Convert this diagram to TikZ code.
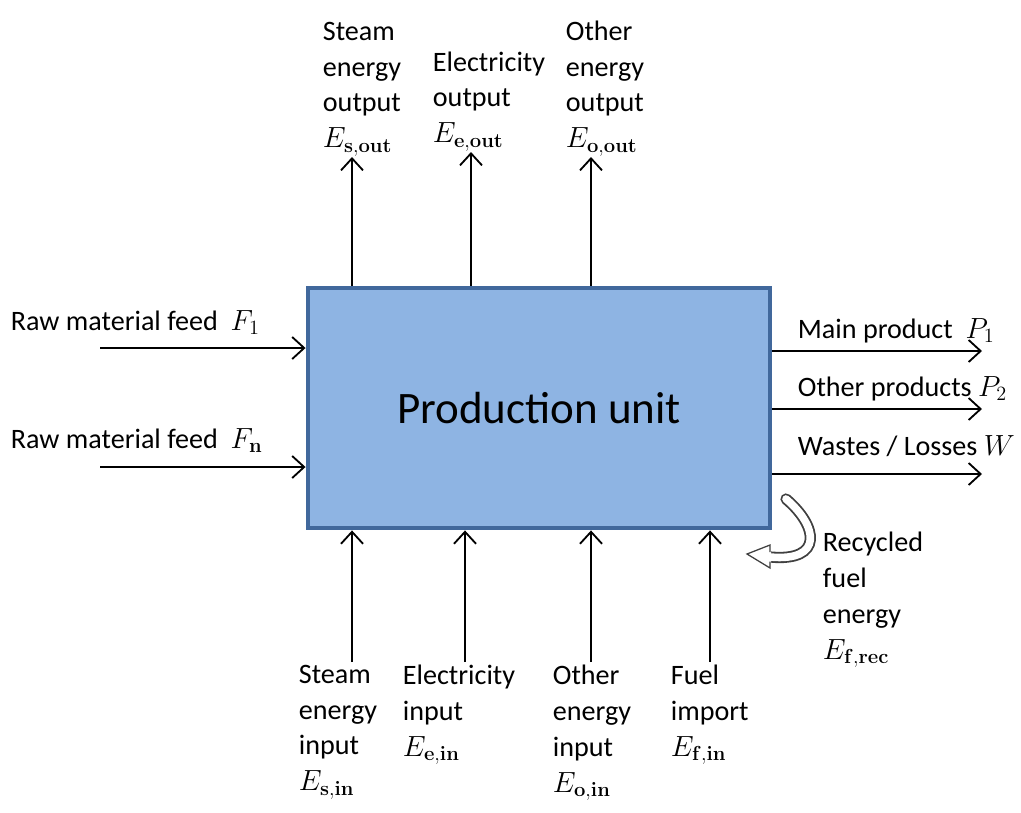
\documentclass[tikz,border=0pt]{standalone}
\usepackage[no-math]{fontspec}
\setmainfont{Carlito}
\usepackage{amsmath}
\usetikzlibrary{arrows.meta,positioning}
\definecolor{unitblue}{HTML}{8EB4E3}
\definecolor{boxblue}{HTML}{41689C}

\begin{document}
\begin{tikzpicture}[x=0.025cm, y=-0.025cm,
    >={Straight Barb[length=3mm, width=5.5mm]},
    line width=1.3pt,
    lbl/.style={inner sep=0pt, align=left, font=\fontsize{20}{25.5}\selectfont},
    unitbox/.style={draw=boxblue, fill=unitblue, line width=3.4pt,
      minimum width=11.55cm, minimum height=6cm, inner sep=0pt},
    hollow/.style={line width=8pt, draw=black!75,
      postaction={draw=white, line width=5.4pt}}]
  \useasboundingbox (0,0) rectangle (1021,812);

  \node[unitbox] (U) at (539,408) {\fontsize{32}{36}\selectfont Production unit};

  % outputs on top
  \coordinate (so) at (352,0);
  \coordinate (eo) at (471,0);
  \coordinate (oo) at (591,0);
  \node[lbl, anchor=south west] (Lso) at (322,157) {Steam\\energy\\output\\$E_{\mathbf{s,out}}$};
  \node[lbl, anchor=south west] (Leo) at (432,152) {Electricity\\output\\$E_{\mathbf{e,out}}$};
  \node[lbl, anchor=south west] (Loo) at (565,157) {Other\\energy\\output\\$E_{\mathbf{o,out}}$};
  \draw[->] (U.north -| so) -- (so |- Lso.south);
  \draw[->] (U.north -| eo) -- (eo |- Leo.south);
  \draw[->] (U.north -| oo) -- (oo |- Loo.south);

  % raw material feeds
  \coordinate (f1) at (100,348);
  \coordinate (fn) at (100,467);
  \node[lbl, anchor=base west] (Lf1) at (10,330) {Raw material feed \ $F_1$};
  \node[lbl, anchor=base west] (Lfn) at (10,448) {Raw material feed \ $F_{\mathbf{n}}$};
  \draw[->] (f1) -- (U.west |- f1);
  \draw[->] (fn) -- (U.west |- fn);

  % products and wastes
  \coordinate (p1) at (982,351);
  \coordinate (p2) at (982,409);
  \coordinate (w) at (982,474);
  \node[lbl, anchor=base west] (Lp1) at (797,338) {Main product \ $P_1$};
  \node[lbl, anchor=base west] (Lp2) at (797,396) {Other products $P_2$};
  \node[lbl, anchor=base west] (Lw) at (797,455) {Wastes / Losses $W$};
  \draw[->] (U.east |- p1) -- (p1);
  \draw[->] (U.east |- p2) -- (p2);
  \draw[->] (U.east |- w) -- (w);

  % energy inputs at the bottom
  \coordinate (si) at (352,662);
  \coordinate (ei) at (465,662);
  \coordinate (oi) at (591,662);
  \coordinate (fi) at (710,662);
  \node[lbl, anchor=north west] (Lsi) at (298,664) {Steam\\energy\\input\\$E_{\mathbf{s,in}}$};
  \node[lbl, anchor=north west] (Lei) at (402,664) {Electricity\\input\\$E_{\mathbf{e,in}}$};
  \node[lbl, anchor=north west] (Loi) at (552,664) {Other\\energy\\input\\$E_{\mathbf{o,in}}$};
  \node[lbl, anchor=north west] (Lfi) at (670,664) {Fuel\\import\\$E_{\mathbf{f,in}}$};
  \draw[->] (si) -- (U.south -| si);
  \draw[->] (ei) -- (U.south -| ei);
  \draw[->] (oi) -- (U.south -| oi);
  \draw[->] (fi) -- (U.south -| fi);

  % recycled fuel
  \coordinate (rt) at (786,499);
  \coordinate (rh) at (770,557);
  \node[lbl, anchor=north west] (Lr) at (822,531) {Recycled\\fuel\\energy\\$E_{\mathbf{f,rec}}$};
  \draw[hollow, line cap=round] (rt) .. controls (818,526) and (824,562) .. (rh);
  \fill[white] (771,545) -- (747,554) -- (771,568) -- cycle;
  \draw[line width=0.9pt, draw=black!75] (770,552) -- (770,545) -- (747,554) -- (770,568) -- (770,561.5);
\end{tikzpicture}
\end{document}
